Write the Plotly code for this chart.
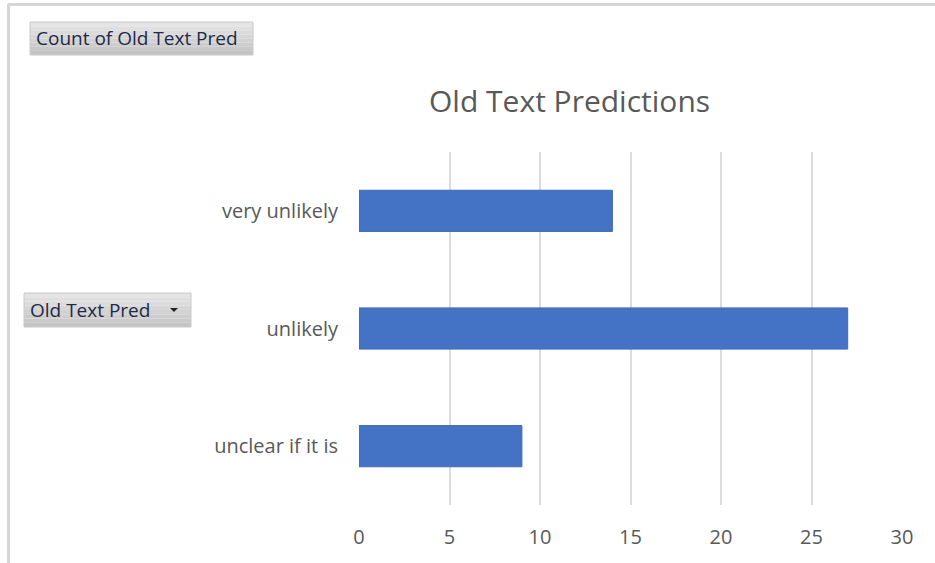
import plotly.graph_objects as go

categories = ["unclear if it is", "unlikely", "very unlikely"]
counts = [9, 27, 14]
x_ticks = [0, 5, 10, 15, 20, 25, 30]

W, H = 935, 563
L, R, T, B = 359, 902, 152, 505
PW, PH = R - L, B - T

def px(x):
    return (x - L) / PW

def py(y):
    return (B - y) / PH

FONT = "Open Sans"

fig = go.Figure(go.Bar(
    x=counts, y=categories, orientation="h",
    marker=dict(color="#4472C4", line=dict(color="#3f6ab8", width=1)),
    width=0.35,
))

shapes = []
# chart border (top and left)
shapes.append(dict(type="line", xref="paper", yref="paper", x0=px(8), x1=px(935), y0=py(4.5), y1=py(4.5),
                   line=dict(color="#d6d6d6", width=3)))
shapes.append(dict(type="line", xref="paper", yref="paper", x0=px(8.5), x1=px(8.5), y0=py(4), y1=py(563),
                   line=dict(color="#d6d6d6", width=3)))

def button(x0, y0, x1, y1):
    n = 8
    top = (228, 228, 228)
    bot = (196, 196, 196)
    for i in range(n):
        t = i / (n - 1)
        c = tuple(int(round(top[k] + (bot[k] - top[k]) * t)) for k in range(3))
        ya = y0 + (y1 - y0) * i / n
        yb = y0 + (y1 - y0) * (i + 1) / n
        shapes.append(dict(type="rect", xref="paper", yref="paper", x0=px(x0), x1=px(x1),
                           y0=py(ya), y1=py(yb), line=dict(width=0),
                           fillcolor="rgb(%d,%d,%d)" % c, layer="below"))
    shapes.append(dict(type="rect", xref="paper", yref="paper", x0=px(x0), x1=px(x1),
                       y0=py(y0), y1=py(y1), line=dict(color="#cacaca", width=1),
                       fillcolor="rgba(0,0,0,0)", layer="below"))

button(30, 22, 253, 55)
button(24, 293, 191, 327)

# dropdown arrow
shapes.append(dict(type="path", xref="paper", yref="paper",
                   path="M %f %f L %f %f L %f %f Z" % (px(170), py(308), px(178), py(308), px(174), py(312)),
                   fillcolor="#222222", line=dict(width=0)))

annotations = [
    dict(text="Old Text Predictions", xref="paper", yref="paper", x=px(569), y=py(100),
         showarrow=False, font=dict(family=FONT, size=30, color="#595959"), xanchor="center", yanchor="middle"),
    dict(text="Count of Old Text Pred", xref="paper", yref="paper", x=px(34), y=py(38.5),
         showarrow=False, font=dict(family=FONT, size=19, color="#1e2a4a"), xanchor="left", yanchor="middle"),
    dict(text="Old Text Pred", xref="paper", yref="paper", x=px(28), y=py(310),
         showarrow=False, font=dict(family=FONT, size=19, color="#1e2a4a"), xanchor="left", yanchor="middle"),
]

fig.update_layout(
    width=W, height=H,
    margin=dict(l=L, r=W - R, t=T, b=H - B, pad=0),
    paper_bgcolor="white", plot_bgcolor="white",
    showlegend=False,
    shapes=shapes, annotations=annotations,
    font=dict(family=FONT, color="#595959", size=20),
    xaxis=dict(range=[0, 30], tickvals=x_ticks, showgrid=True, gridcolor="#dcdcdc", gridwidth=1.5,
               zeroline=False, showline=False, ticks="", ticklabelstandoff=18,
               tickfont=dict(family=FONT, size=20, color="#595959"), fixedrange=True),
    yaxis=dict(categoryorder="array", categoryarray=categories, showgrid=False, zeroline=False,
               showline=False, ticks="", ticklabelstandoff=20,
               tickfont=dict(family=FONT, size=20, color="#595959"), fixedrange=True),
)

fig.write_html("out.html", config={"displayModeBar": False},
               post_script="document.body.style.margin='0';document.body.style.overflow='hidden';")
